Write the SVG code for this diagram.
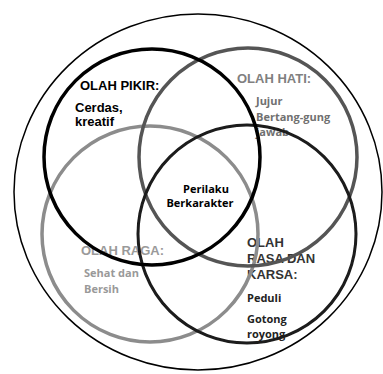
<svg xmlns="http://www.w3.org/2000/svg" width="383" height="374" viewBox="0 0 383 374">
<style>
.c{fill:none}
.h{font-family:"Liberation Sans",Arial,sans-serif;font-weight:bold;font-size:13px}
.s{font-family:"Open Sans","Noto Sans",sans-serif;font-weight:bold;font-size:11px}
</style>
<defs><filter id="b" x="-5%" y="-5%" width="110%" height="110%"><feGaussianBlur stdDeviation="0.5"/></filter></defs>
<rect width="383" height="374" fill="#fff"/>
<g id="outer"><ellipse class="c" cx="198" cy="192" rx="184" ry="178" stroke="#000" stroke-width="1.5"/></g>
<g id="text-layer">
<text class="h" x="80" y="90" fill="#000">OLAH PIKIR:</text>
<text class="h" x="75" y="112" fill="#000">Cerdas,</text>
<text class="h" x="75" y="126" fill="#000">kreatif</text>
<text class="h" x="237" y="83" fill="#808080">OLAH HATI:</text>
<text class="s" x="256" y="105" fill="#707070">Jujur</text>
<text class="s" x="256" y="121" fill="#707070">Bertang-gung</text>
<text class="s" x="256" y="136" fill="#707070">jawab</text>
<text class="h" x="81" y="255" fill="#9a9a9a">OLAH RAGA:</text>
<text class="s" x="84" y="277" fill="#999">Sehat dan</text>
<text class="s" x="84" y="293" fill="#999">Bersih</text>
<text class="h" x="247" y="247" fill="#333">OLAH</text>
<text class="h" x="247" y="263" fill="#333">RASA DAN</text>
<text class="h" x="247" y="279" fill="#333">KARSA:</text>
<text class="s" x="247" y="302" fill="#222">Peduli</text>
<text class="s" x="247" y="323" fill="#222">Gotong</text>
<text class="s" x="247" y="338" fill="#222">royong</text>
</g>
<g id="olah-raga"><circle class="c" cx="150" cy="234" r="108" stroke="#8c8c8c" stroke-width="3.5" filter="url(#b)"/></g>
<g id="olah-hati"><circle class="c" cx="248" cy="157" r="109" stroke="#555" stroke-width="3.5" filter="url(#b)"/></g>
<g id="olah-rasa"><circle class="c" cx="247" cy="234" r="109" stroke="#1a1a1a" stroke-width="3" filter="url(#b)"/></g>
<g id="olah-pikir"><circle class="c" cx="152" cy="157" r="108" stroke="#000" stroke-width="3.5" filter="url(#b)"/></g>
<g id="center">
<text class="s" x="206" y="193" text-anchor="middle" fill="#000">Perilaku</text>
<text class="s" x="200" y="207" text-anchor="middle" fill="#000">Berkarakter</text>
</g>
<g id="connectors"/>
</svg>
